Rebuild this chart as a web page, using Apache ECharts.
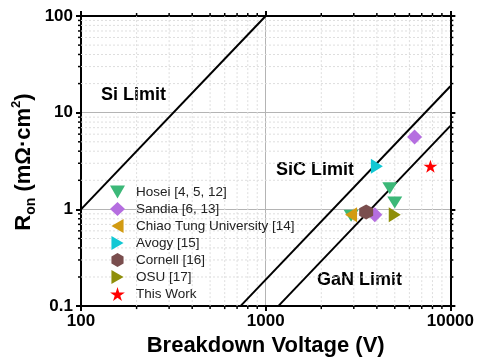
<!DOCTYPE html>
<html>
<head>
<meta charset="utf-8">
<script src="https://cdn.jsdelivr.net/npm/echarts@6/dist/echarts.min.js"></script>
<style>
html,body{margin:0;padding:0;background:#fff;}
#chart{width:477px;height:362px;}
</style>
</head>
<body>
<div id="chart"></div>
<script>
// ---- data ----
var xMinVal = 100, xMaxVal = 10000;
var yMinVal = 0.1, yMaxVal = 100;
var xMinorTicks = [200,300,400,500,600,700,800,900,2000,3000,4000,5000,6000,7000,8000,9000];
var yMinorTicks = [0.2,0.3,0.4,0.5,0.6,0.7,0.8,0.9,2,3,4,5,6,7,8,9,20,30,40,50,60,70,80,90];

var siLimit  = [[100, 1], [1000, 100]];
var sicLimit = [[730, 0.1], [10000, 18.8]];
var ganLimit = [[1170, 0.1], [10000, 7.3]];

var seriesNames = ['Hosei [4, 5, 12]', 'Sandia [6, 13]', 'Chiao Tung University [14]', 'Avogy [15]', 'Cornell [16]', 'OSU [17]', 'This Work'];
var hosei     = [[4700, 1.65], [5000, 1.18], [2900, 0.86]];
var sandia    = [[3900, 0.88], [6400, 5.6]];
var chiaoTung = [[2900, 0.88]];
var avogy     = [[4000, 2.8]];
var cornell   = [[3500, 0.94]];
var osu       = [[5000, 0.88]];
var thisWork  = [[7800, 2.8]];

var limitLabels = ['Si Limit', 'SiC Limit', 'GaN Limit'];

// ---- styles ----
var FONT = '"Liberation Sans", Arial, sans-serif';
var colors = ['#3cb878', '#b56ee0', '#d29b12', '#12c8d4', '#7a4e4e', '#8f8f0a', '#ff0000'];
var symbols = [
  'path://M0,0L10,0L5,8.66Z',
  'diamond',
  'path://M8.66,0L8.66,10L0,5Z',
  'path://M0,0L8.66,5L0,10Z',
  'path://M5,0L9.33,2.5L9.33,7.5L5,10L0.67,7.5L0.67,2.5Z',
  'path://M0,0L8.66,5L0,10Z',
  'path://M50,0L61,35L98,35L68,57L79,91L50,70L21,91L32,57L2,35L39,35Z'
];
var sizes = [[15,12],[15,15],[12,15],[12,15],[14,15],[12,15],[14,13]];
var datasets = [hosei, sandia, chiaoTung, avogy, cornell, osu, thisWork];

var chart = echarts.init(document.getElementById('chart'));

function fmt(v){ return String(+(+v).toPrecision(3)); }

var scatterSeries = datasets.map(function(d, i){
  return {
    type: 'scatter', name: seriesNames[i], data: d,
    xAxisIndex: 0, yAxisIndex: 0,
    symbol: symbols[i], symbolSize: sizes[i],
    itemStyle: {color: colors[i], opacity: 1},
    z: 5
  };
});

function limitSeries(d){
  return {
    type: 'line', data: d, xAxisIndex: 0, yAxisIndex: 0,
    symbol: 'none', lineStyle: {color: '#000', width: 2}, silent: true, z: 3,
    animation: false
  };
}

var minorXSeries = {
  type: 'custom', xAxisIndex: 0, yAxisIndex: 0, silent: true, z: 1,
  data: xMinorTicks.map(function(v){ return [v, 1]; }),
  renderItem: function(params, api){
    var v = api.value(0);
    var p0 = api.coord([v, yMinVal]);
    var p1 = api.coord([v, yMaxVal]);
    return {type: 'group', children: [
      {type:'line', shape:{x1:p0[0], y1:p0[1], x2:p1[0], y2:p1[1]}, style:{stroke:'#dedede', lineWidth:1, lineDash:[2,2]}},
      {type:'line', shape:{x1:p0[0], y1:p0[1], x2:p0[0], y2:p0[1]+3}, style:{stroke:'#000', lineWidth:1.5}},
      {type:'line', shape:{x1:p1[0], y1:p1[1], x2:p1[0], y2:p1[1]-3}, style:{stroke:'#000', lineWidth:1.5}}
    ]};
  }
};
var minorYSeries = {
  type: 'custom', xAxisIndex: 0, yAxisIndex: 0, silent: true, z: 1,
  data: yMinorTicks.map(function(v){ return [1000, v]; }),
  renderItem: function(params, api){
    var v = api.value(1);
    var p0 = api.coord([xMinVal, v]);
    var p1 = api.coord([xMaxVal, v]);
    return {type: 'group', children: [
      {type:'line', shape:{x1:p0[0], y1:p0[1], x2:p1[0], y2:p1[1]}, style:{stroke:'#dedede', lineWidth:1, lineDash:[2,2]}},
      {type:'line', shape:{x1:p0[0], y1:p0[1], x2:p0[0]-3, y2:p0[1]}, style:{stroke:'#000', lineWidth:1.5}},
      {type:'line', shape:{x1:p1[0], y1:p1[1], x2:p1[0]+3, y2:p1[1]}, style:{stroke:'#000', lineWidth:1.5}}
    ]};
  }
};

var axisCommon = {
  type: 'log', logBase: 10,
  axisLine: {show: true, onZero: false, lineStyle: {color: '#000', width: 2}},
  axisTick: {show: true, inside: false, length: 5, lineStyle: {color: '#000', width: 2}}
};

var option = {
  animation: false,
  backgroundColor: '#fff',
  grid: {left: 81, right: 26, top: 16, bottom: 53, containLabel: false},
  xAxis: [
    Object.assign({}, axisCommon, {
      position: 'bottom', min: xMinVal, max: xMaxVal,
      axisLabel: {formatter: fmt, color: '#000', fontSize: 17, fontWeight: 'bold', fontFamily: FONT, margin: 7},
      splitLine: {show: true, lineStyle: {color: '#b4b4b4', width: 1}},
      name: 'Breakdown Voltage (V)', nameLocation: 'middle', nameGap: 23,
      nameTextStyle: {color: '#000', fontSize: 22, fontWeight: 'bold', fontFamily: FONT}
    }),
    Object.assign({}, axisCommon, {
      position: 'top', min: xMinVal, max: xMaxVal,
      axisLabel: {show: false}, splitLine: {show: false}
    })
  ],
  yAxis: [
    Object.assign({}, axisCommon, {
      position: 'left', min: yMinVal, max: yMaxVal,
      axisLabel: {formatter: fmt, color: '#000', fontSize: 17, fontWeight: 'bold', fontFamily: FONT, margin: 8},
      splitLine: {show: true, lineStyle: {color: '#b4b4b4', width: 1}}
    }),
    Object.assign({}, axisCommon, {
      position: 'right', min: yMinVal, max: yMaxVal,
      axisLabel: {show: false}, splitLine: {show: false}
    })
  ],
  legend: {
    orient: 'vertical', left: 105, top: 180,
    data: seriesNames,
    itemWidth: 15, itemHeight: 14, itemGap: 3,
    textStyle: {fontSize: 13.5, color: '#222', fontFamily: FONT, padding: [0,0,0,6], lineHeight: 14},
    selectedMode: false
  },
  graphic: [
    {type: 'text', left: 101, top: 86, style: {text: limitLabels[0], font: 'bold 18px ' + FONT, fill: '#000'}},
    {type: 'text', left: 276, top: 161, style: {text: limitLabels[1], font: 'bold 18px ' + FONT, fill: '#000'}},
    {type: 'text', left: 317, top: 271, style: {text: limitLabels[2], font: 'bold 18px ' + FONT, fill: '#000'}},
    {type: 'text', x: 24, y: 162, rotation: Math.PI / 2,
      style: {
        text: '{m|R}{s|on}{m| (mΩ·cm}{p|2}{m|)}',
        textAlign: 'center', textVerticalAlign: 'middle', fill: '#000',
        rich: {
          m: {fontSize: 22, fontWeight: 'bold', fontFamily: FONT, lineHeight: 28, fill: '#000'},
          s: {fontSize: 14, fontWeight: 'bold', fontFamily: FONT, lineHeight: 14, verticalAlign: 'bottom', fill: '#000'},
          p: {fontSize: 13, fontWeight: 'bold', fontFamily: FONT, lineHeight: 14, verticalAlign: 'top', fill: '#000'}
        }
      }
    }
  ],
  series: [minorXSeries, minorYSeries, limitSeries(siLimit), limitSeries(sicLimit), limitSeries(ganLimit)].concat(scatterSeries)
};
chart.setOption(option);
</script>
</body>
</html>
